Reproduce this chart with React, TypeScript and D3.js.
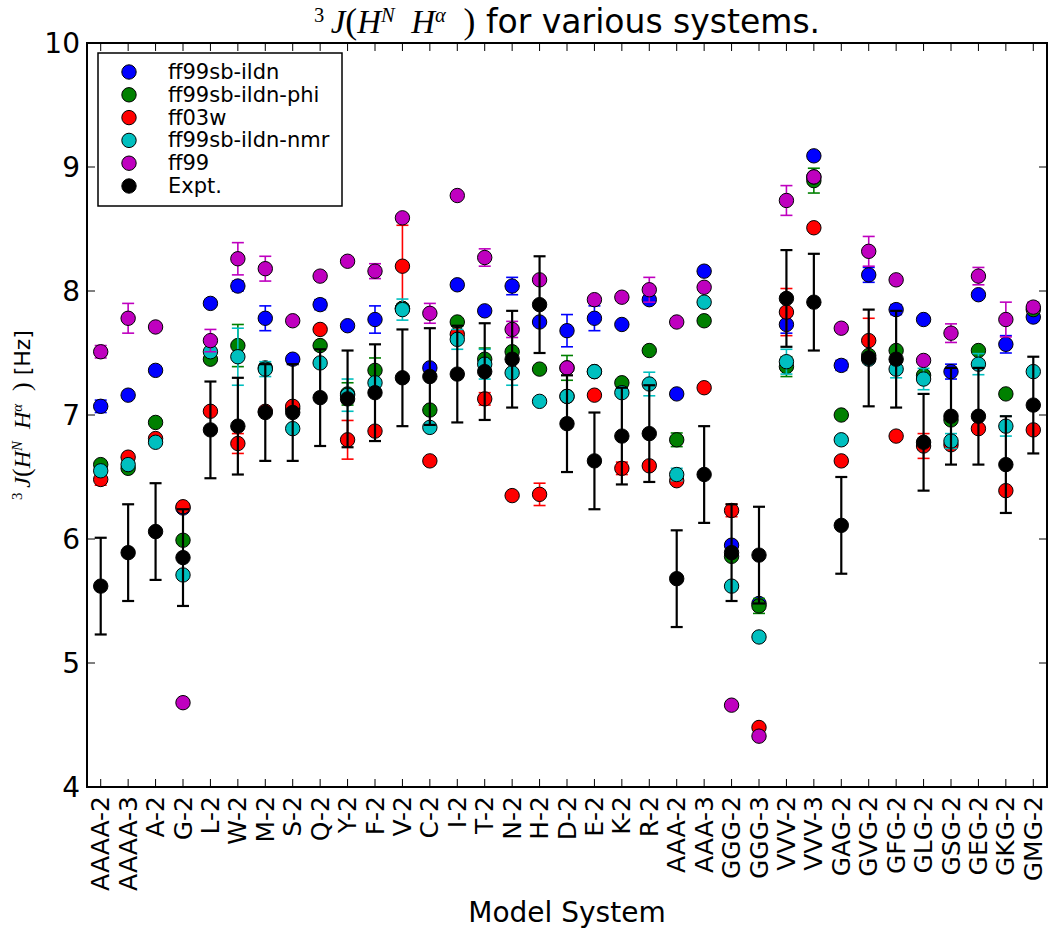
import React from "react";
import * as d3 from "d3";

const categories = ["AAAA-2","AAAA-3","A-2","G-2","L-2","W-2","M-2","S-2","Q-2","Y-2","F-2","V-2","C-2","I-2","T-2","N-2","H-2","D-2","E-2","K-2","R-2","AAA-2","AAA-3","GGG-2","GGG-3","VVV-2","VVV-3","GAG-2","GVG-2","GFG-2","GLG-2","GSG-2","GEG-2","GKG-2","GMG-2"];

const ildn = [7.07,7.16,7.36,6.25,7.90,8.04,7.78,7.45,7.89,7.72,7.77,7.86,7.38,8.05,7.84,8.04,7.75,7.68,7.78,7.73,7.93,7.17,8.16,5.95,5.48,7.73,9.09,7.40,8.13,7.85,7.77,7.35,7.97,7.57,7.79];
const ildnErr = [0.05,0.02,0.02,0.02,0.02,0.04,0.1,0.02,0.04,0.02,0.11,0.02,0.02,0.03,0.02,0.07,0.02,0.13,0.1,0.02,0.02,0.02,0.02,0.02,0.02,0.07,0.02,0.04,0.06,0.04,0.02,0.06,0.02,0.07,0.02];

const ildnPhi = [6.60,6.57,6.94,5.99,7.45,7.56,7.38,7.05,7.56,7.17,7.36,7.86,7.04,7.75,7.45,7.51,7.37,7.38,7.35,7.26,7.52,6.80,7.76,5.86,5.46,7.39,8.89,7.00,7.48,7.52,7.32,6.96,7.52,7.17,7.85];
const ildnPhiErr = [0.02,0.02,0.02,0.02,0.02,0.17,0.02,0.02,0.02,0.09,0.1,0.02,0.02,0.02,0.09,0.02,0.02,0.1,0.02,0.02,0.02,0.055,0.02,0.02,0.06,0.08,0.1,0.02,0.02,0.02,0.02,0.02,0.02,0.02,0.02];

const ff03w = [6.48,6.66,6.81,6.26,7.03,6.77,7.03,7.07,7.69,6.80,6.87,8.20,6.63,7.65,7.13,6.35,6.36,7.15,7.16,6.57,6.59,6.47,7.22,6.23,4.48,7.83,8.51,6.63,7.60,6.83,6.75,6.76,6.89,6.39,6.88];
const ff03wErr = [0.046,0.02,0.02,0.02,0.02,0.08,0.02,0.02,0.02,0.156,0.02,0.33,0.02,0.02,0.05,0.02,0.09,0.02,0.02,0.05,0.02,0.02,0.02,0.05,0.02,0.19,0.02,0.02,0.18,0.02,0.1,0.02,0.02,0.02,0.02];

const ildnNmr = [6.55,6.60,6.78,5.71,7.51,7.47,7.37,6.89,7.42,7.16,7.26,7.85,6.90,7.61,7.41,7.34,7.11,7.15,7.35,7.18,7.25,6.52,7.91,5.62,5.21,7.43,8.92,6.80,7.45,7.37,7.29,6.79,7.41,6.91,7.35];
const ildnNmrErr = [0.02,0.02,0.02,0.02,0.02,0.23,0.06,0.02,0.02,0.13,0.02,0.085,0.02,0.08,0.12,0.1,0.02,0.02,0.02,0.02,0.095,0.05,0.02,0.02,0.02,0.1,0.02,0.02,0.02,0.07,0.086,0.06,0.085,0.08,0.02];

const ff99 = [7.51,7.78,7.71,4.68,7.60,8.26,8.18,7.76,8.12,8.24,8.16,8.59,7.82,8.77,8.27,7.69,8.09,7.38,7.93,7.95,8.01,7.75,8.03,4.66,4.41,8.73,8.92,7.70,8.32,8.09,7.44,7.66,8.12,7.77,7.87];
const ff99Err = [0.05,0.12,0.02,0.02,0.09,0.13,0.1,0.02,0.02,0.02,0.06,0.02,0.08,0.02,0.07,0.065,0.02,0.02,0.02,0.03,0.1,0.02,0.02,0.02,0.02,0.12,0.02,0.02,0.12,0.02,0.02,0.075,0.07,0.14,0.04];

const expt = [5.62,5.89,6.06,5.85,6.88,6.91,7.02,7.02,7.14,7.13,7.18,7.30,7.31,7.33,7.35,7.45,7.89,6.93,6.63,6.83,6.85,5.68,6.52,5.89,5.87,7.94,7.91,6.11,7.46,7.45,6.78,6.99,6.99,6.60,7.08];
const exptErr = [0.39,0.39,0.39,0.39,0.39,0.39,0.39,0.39,0.39,0.39,0.39,0.39,0.39,0.39,0.39,0.39,0.39,0.39,0.39,0.39,0.39,0.39,0.39,0.39,0.39,0.39,0.39,0.39,0.39,0.39,0.39,0.39,0.39,0.39,0.39];

const yTicks = [4, 5, 6, 7, 8, 9, 10];

const series = [
  { name: "ff99sb-ildn", color: "#0000ff", values: ildn, errors: ildnErr },
  { name: "ff99sb-ildn-phi", color: "#008000", values: ildnPhi, errors: ildnPhiErr },
  { name: "ff03w", color: "#ff0000", values: ff03w, errors: ff03wErr },
  { name: "ff99sb-ildn-nmr", color: "#00bfbf", values: ildnNmr, errors: ildnNmrErr },
  { name: "ff99", color: "#bf00bf", values: ff99, errors: ff99Err },
  { name: "Expt.", color: "#000000", values: expt, errors: exptErr },
];

const L = 87, R = 1047, T = 43, B = 787;
const SANS = "'DejaVu Sans', sans-serif";
const SERIF = "'Liberation Serif', 'DejaVu Serif', serif";

function MathLabel({ size }: { size: number }) {
  const sup = size * 0.62;
  const up = -size * 0.32;
  return (
    <>
      <tspan fontFamily={SERIF} fontSize={sup} dy={up}>3</tspan>
      <tspan fontFamily={SERIF} fontSize={size} dy={-up} fontStyle="italic">{"\u2009J"}</tspan>
      <tspan fontFamily={SERIF} fontSize={size * 1.08}>(</tspan>
      <tspan fontFamily={SERIF} fontSize={size} fontStyle="italic">H</tspan>
      <tspan fontFamily={SERIF} fontSize={sup} fontStyle="italic" dy={up}>N</tspan>
      <tspan fontFamily={SERIF} fontSize={size} fontStyle="italic" dy={-up}>{"\u2002H"}</tspan>
      <tspan fontFamily={SERIF} fontSize={sup} fontStyle="italic" dy={up}>α</tspan>
      <tspan fontFamily={SERIF} fontSize={size * 1.08} dy={-up}>{"\u2002)"}</tspan>
    </>
  );
}

export default function App() {
  const x = d3.scaleLinear().domain([0.5, 35.5]).range([L, R]);
  const y = d3.scaleLinear().domain([4, 10]).range([B, T]);
  const r = 7.2;
  const cap = 6;

  return (
    <svg width={1050} height={932} style={{ position: "absolute", left: 0, top: 0, background: "#fff" }}>
      <rect x={0} y={0} width={1050} height={932} fill="#fff" />
      {series.map((s) => (
        <g key={s.name}>
          {s.values.map((v, i) => {
            const cx = x(i + 1);
            const e = s.errors[i];
            const lw = s.color === "#000000" ? 2.2 : 1.6;
            return (
              <g key={i}>
                <line x1={cx} x2={cx} y1={y(v - e)} y2={y(v + e)} stroke={s.color} strokeWidth={lw} />
                <line x1={cx - cap} x2={cx + cap} y1={y(v - e)} y2={y(v - e)} stroke={s.color} strokeWidth={lw} />
                <line x1={cx - cap} x2={cx + cap} y1={y(v + e)} y2={y(v + e)} stroke={s.color} strokeWidth={lw} />
              </g>
            );
          })}
          {s.values.map((v, i) => (
            <circle key={"c" + i} cx={x(i + 1)} cy={y(v)} r={r} fill={s.color} stroke="#000" strokeWidth={1} />
          ))}
        </g>
      ))}
      <rect x={L} y={T} width={R - L} height={B - T} fill="none" stroke="#000" strokeWidth={2} />
      {categories.map((c, i) => {
        const cx = x(i + 1);
        return (
          <g key={c}>
            <line x1={cx} x2={cx} y1={B} y2={B - 8} stroke="#000" strokeWidth={1} />
            <line x1={cx} x2={cx} y1={T} y2={T + 8} stroke="#000" strokeWidth={1} />
            <text
              transform={`translate(${cx},${B + 9}) rotate(-90)`}
              textAnchor="end"
              dominantBaseline="central"
              fontFamily={SANS}
              fontSize={25}
            >
              {c}
            </text>
          </g>
        );
      })}
      {yTicks.map((t) => (
        <g key={t}>
          <line x1={L} x2={L + 8} y1={y(t)} y2={y(t)} stroke="#000" strokeWidth={1} />
          <line x1={R} x2={R - 8} y1={y(t)} y2={y(t)} stroke="#000" strokeWidth={1} />
          <text x={L - 7} y={y(t)} textAnchor="end" dominantBaseline="central" fontFamily={SANS} fontSize={28}>
            {t}
          </text>
        </g>
      ))}
      <text x={(L + R) / 2} y={33} textAnchor="middle" fontSize={33}>
        <MathLabel size={33} />
        <tspan fontFamily={SANS} fontSize={33}>{" for various systems."}</tspan>
      </text>
      <text transform={`translate(30,${(T + B) / 2}) rotate(-90)`} textAnchor="middle" fontSize={24}>
        <MathLabel size={24} />
        <tspan fontFamily={SANS} fontSize={22}>{" [Hz]"}</tspan>
      </text>
      <text x={(L + R) / 2} y={922} textAnchor="middle" fontFamily={SANS} fontSize={28}>
        Model System
      </text>
      <g>
        <rect x={98} y={53} width={244} height={153} fill="#fff" stroke="#000" strokeWidth={1.5} />
        {series.map((s, i) => (
          <g key={s.name}>
            <circle cx={129} cy={72 + i * 22.8} r={r} fill={s.color} stroke="#000" strokeWidth={1} />
            <text x={168} y={72 + i * 22.8} dominantBaseline="central" fontFamily={SANS} fontSize={21}>
              {s.name}
            </text>
          </g>
        ))}
      </g>
    </svg>
  );
}
